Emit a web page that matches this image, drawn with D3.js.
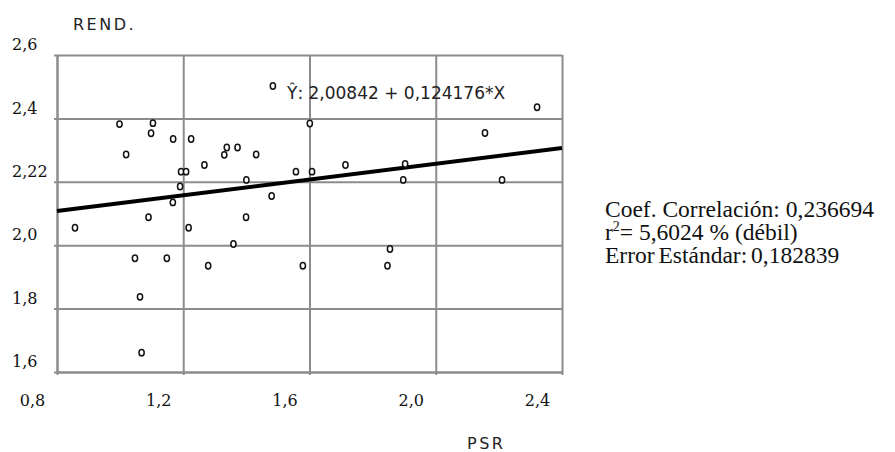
<!DOCTYPE html>
<html>
<head>
<meta charset="utf-8">
<script src="https://cdn.jsdelivr.net/npm/d3@7"></script>
<style>
  body { margin: 0; background: #fff; }
  svg { display: block; }
</style>
</head>
<body>
<div id="wrapper"></div>
<script>
// PSR (x) vs REND. (y)
const psr = [0.857, 0.998, 1.019, 1.104, 1.098, 1.068, 1.063, 1.047, 1.090, 1.148,
  1.168, 1.167, 1.190, 1.193, 1.209, 1.217, 1.225, 1.267, 1.279, 1.330,
  1.338, 1.372, 1.431, 1.400, 1.399, 1.359, 1.480, 1.484, 1.557, 1.579,
  1.601, 1.608, 1.714, 1.855, 1.847, 1.903, 1.897, 2.156, 2.210, 2.321];
const rend = [2.055, 2.382, 2.286, 2.385, 2.353, 1.661, 1.837, 1.959, 2.088, 1.959,
  2.335, 2.135, 2.185, 2.232, 2.232, 2.055, 2.335, 2.253, 1.935, 2.285,
  2.308, 2.308, 2.286, 2.206, 2.088, 2.004, 2.155, 2.502, 2.232, 1.935,
  2.384, 2.232, 2.253, 1.988, 1.935, 2.256, 2.206, 2.354, 2.206, 2.435];

const xTickValues = [0.8, 1.2, 1.6, 2.0, 2.4];
const xTickLabels = ["0,8", "1,2", "1,6", "2,0", "2,4"];
const yTickValues = [2.6, 2.4, 2.2, 2.0, 1.8, 1.6];
const yTickLabels = ["2,6", "2,4", "2,22", "2,0", "1,8", "1,6"];

const intercept = 2.00842;
const slope = 0.124176;
const statLines = ["Coef. Correlación: 0,236694", "= 5,6024 % (débil)", "Error Estándar: 0,182839"];

const dataset = psr.map((x, i) => ({ x, y: rend[i] }));

const dimensions = {
  width: 895,
  height: 452,
  margin: { top: 55, left: 57 },
  boundedWidth: 505,
  boundedHeight: 317,
};

const gridColor = "#8c8c8c";

const wrapper = d3
  .select("#wrapper")
  .append("svg")
  .attr("width", dimensions.width)
  .attr("height", dimensions.height);

const bounds = wrapper
  .append("g")
  .attr("transform", `translate(${dimensions.margin.left},${dimensions.margin.top})`);

const xScale = d3.scaleLinear()
  .domain([0.8, 2.4])
  .range([0, dimensions.boundedWidth]);

const yScale = d3.scaleLinear()
  .domain([1.6, 2.6])
  .range([dimensions.boundedHeight, 0]);

// x grid + labels
const xAxis = bounds.append("g")
  .attr("transform", `translate(0,${dimensions.boundedHeight})`)
  .call(d3.axisBottom(xScale)
    .tickValues(xTickValues)
    .tickFormat((d, i) => xTickLabels[i])
    .tickSize(-dimensions.boundedHeight)
    .tickSizeOuter(0));
xAxis.select(".domain").attr("stroke", gridColor).attr("stroke-width", 2);
xAxis.selectAll(".tick line").attr("stroke", gridColor).attr("stroke-width", 2)
  .attr("y1", 3);
xAxis.selectAll(".tick text")
  .attr("y", 28)
  .attr("dy", "0.35em")
  .attr("dx", -25)
  .attr("fill", "#111")
  .style("font-family", "'DejaVu Serif', serif")
  .style("font-size", "16px");

// y grid + labels
const yAxis = bounds.append("g")
  .call(d3.axisLeft(yScale)
    .tickValues(yTickValues)
    .tickFormat((d, i) => yTickLabels[i])
    .tickSize(-dimensions.boundedWidth)
    .tickSizeOuter(0));
yAxis.select(".domain").attr("stroke", gridColor).attr("stroke-width", 2);
yAxis.selectAll(".tick line").attr("stroke", gridColor).attr("stroke-width", 2)
  .attr("x1", -3);
yAxis.selectAll(".tick text")
  .attr("x", -45)
  .attr("dy", "0.35em")
  .attr("y", -11)
  .style("text-anchor", "start")
  .attr("fill", "#111")
  .style("font-family", "'DejaVu Serif', serif")
  .style("font-size", "16px");

// regression line
const fit = (x) => intercept + slope * x;
bounds.append("path")
  .datum(xScale.domain())
  .attr("d", d3.line().x((d) => xScale(d)).y((d) => yScale(fit(d))))
  .attr("stroke", "#000")
  .attr("stroke-width", 4)
  .attr("fill", "none");

// points
bounds.selectAll(".pt")
  .data(dataset)
  .join("ellipse")
  .attr("class", "pt")
  .attr("cx", (d) => xScale(d.x))
  .attr("cy", (d) => yScale(d.y))
  .attr("rx", 2.6)
  .attr("ry", 3.2)
  .attr("fill", "#fff")
  .attr("stroke", "#111")
  .attr("stroke-width", 1.5);

// equation
bounds.append("text")
  .attr("x", 230)
  .attr("y", 44)
  .attr("fill", "#222")
  .style("font-family", "'DejaVu Sans', sans-serif")
  .style("font-size", "17px")
  .text(`Ŷ: ${d3.format(".5f")(intercept).replace(".", ",")} + ${d3.format(".6f")(slope).replace(".", ",")}*X`);

// axis titles
wrapper.append("text")
  .attr("x", 73)
  .attr("y", 30)
  .attr("fill", "#222")
  .style("font-family", "'DejaVu Sans', sans-serif")
  .style("font-size", "16px")
  .style("letter-spacing", "2.5px")
  .text("REND.");

wrapper.append("text")
  .attr("x", 467)
  .attr("y", 449)
  .attr("fill", "#222")
  .style("font-family", "'DejaVu Sans', sans-serif")
  .style("font-size", "16px")
  .style("letter-spacing", "2.5px")
  .text("PSR");

// stats block
const stats = wrapper.append("g")
  .style("font-family", "'Liberation Serif', 'Times New Roman', serif")
  .style("font-size", "23.5px")
  .attr("fill", "#111");

stats.append("text").attr("x", 605).attr("y", 217).text(statLines[0]);
const r2 = stats.append("text").attr("x", 605).attr("y", 240);
r2.append("tspan").text("r");
r2.append("tspan").attr("dy", -9).style("font-size", "14px").text("2");
r2.append("tspan").attr("dy", 9).text(statLines[1]);
stats.append("text").attr("x", 605).attr("y", 263).style("word-spacing", "-2px").text(statLines[2]);
</script>
</body>
</html>
